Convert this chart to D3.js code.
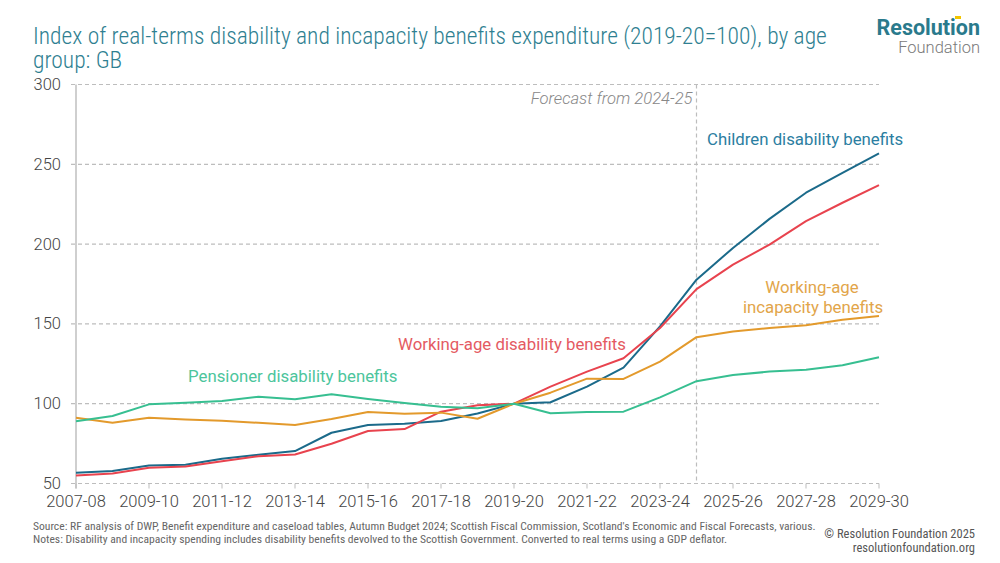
<!DOCTYPE html>
<html><head><meta charset="utf-8">
<script src="https://cdn.jsdelivr.net/npm/d3@7"></script>
<style>
body{margin:0;background:#fff;}
svg{display:block;}
</style></head>
<body>
<svg id="c" width="1000" height="563"></svg>
<script>
const years = ["2007-08","2008-09","2009-10","2010-11","2011-12","2012-13","2013-14","2014-15","2015-16","2016-17","2017-18","2018-19","2019-20","2020-21","2021-22","2022-23","2023-24","2024-25","2025-26","2026-27","2027-28","2028-29","2029-30"];
const tickYears = ["2007-08","2009-10","2011-12","2013-14","2015-16","2017-18","2019-20","2021-22","2023-24","2025-26","2027-28","2029-30"];
const yTicks = [50,100,150,200,250,300];
const children = [56.7,57.9,61.3,61.7,65.5,68.0,70.3,81.8,86.6,87.4,89.1,93.9,100,100.9,110.7,122.6,148.4,177.7,197.6,215.8,232.2,244.7,256.8];
const workingDisability = [55.0,56.3,59.8,60.7,64.0,67.1,68.2,74.9,82.9,84.1,95.0,99.0,100,110.7,120.1,128.5,147.4,171.8,187.1,199.7,214.4,225.9,237.0];
const incapacity = [91.2,88.1,91.2,90.1,89.3,88.0,86.6,90.4,94.8,93.7,94.4,90.6,100,106.9,115.7,115.5,126.4,141.7,145.2,147.4,149.2,152.6,154.9];
const pensioner = [89.0,92.3,99.6,100.6,101.7,104.4,102.8,105.9,103.0,100.4,98.1,97.1,100,94.0,94.8,95.0,104.0,114.1,118.0,120.1,121.2,124.1,129.1];
const forecastYear = "2024-25";

const series = [
  {name:"children", values:children, color:"#1b6a8a"},
  {name:"workingDisability", values:workingDisability, color:"#e8434e"},
  {name:"incapacity", values:incapacity, color:"#e39a2c"},
  {name:"pensioner", values:pensioner, color:"#37bf91"}
];

const svg = d3.select("#c");
const x = d3.scalePoint().domain(years).range([76, 879]);
const y = d3.scaleLinear().domain([50,300]).range([483.5, 84.5]);

// title
const title = svg.append("text").attr("x",33).attr("fill","#2f7f91")
  .style("font-family","'Roboto Condensed','Liberation Sans Narrow','Roboto',sans-serif")
  .style("font-weight","300")
  .style("font-size","23.5px");
title.append("tspan").attr("x",33).attr("y",44).text("Index of real-terms disability and incapacity benefits expenditure (2019-20=100), by age");
title.append("tspan").attr("x",33).attr("y",68).text("group: GB");

// logo
svg.append("text").attr("x",980).attr("y",35).attr("text-anchor","end")
  .attr("fill","#2a7a8c").style("font-family","'Roboto',sans-serif").style("font-weight","700")
  .style("font-size","21.5px").text("Resolution");
svg.append("rect").attr("x",955).attr("y",16).attr("width",6).attr("height",3).attr("fill","#f2c500");
svg.append("text").attr("x",980).attr("y",53).attr("text-anchor","end")
  .attr("fill","#7a7a7a").style("font-family","'Roboto',sans-serif").style("font-weight","300")
  .style("font-size","16.5px").text("Foundation");

// gridlines
const g = svg.append("g");
g.selectAll("line.grid").data(yTicks).join("line")
  .attr("x1",71).attr("x2",879)
  .attr("y1",d=>y(d)).attr("y2",d=>y(d))
  .attr("stroke","#bdbdbd").attr("stroke-width",1.2).attr("stroke-dasharray","4,3");

// y axis line
g.append("line").attr("x1",76).attr("x2",76).attr("y1",y(300)).attr("y2",y(50)+5)
  .attr("stroke","#cfcfcf").attr("stroke-width",2);

// y tick labels
g.selectAll("text.yt").data(yTicks).join("text")
  .attr("x",61).attr("y",d=>y(d)+5.5).attr("text-anchor","end")
  .attr("fill","#444").style("font-family","'Roboto',sans-serif").style("font-weight","300")
  .style("font-size","16.5px").text(d=>d);

// x ticks
g.selectAll("line.xt").data(tickYears).join("line")
  .attr("x1",d=>x(d)).attr("x2",d=>x(d)).attr("y1",y(50)).attr("y2",y(50)+5)
  .attr("stroke","#bdbdbd").attr("stroke-width",1);
g.selectAll("text.xt").data(tickYears).join("text")
  .attr("x",d=>x(d)).attr("y",507).attr("text-anchor","middle")
  .attr("fill","#444").style("font-family","'Roboto',sans-serif").style("font-weight","300")
  .style("font-size","16.5px").text(d=>d);

// forecast line
g.append("line").attr("x1",x(forecastYear)).attr("x2",x(forecastYear))
  .attr("y1",y(300)).attr("y2",y(50))
  .attr("stroke","#bdbdbd").attr("stroke-width",1.2).attr("stroke-dasharray","4,3");
g.append("text").attr("x",x(forecastYear)-4).attr("y",104).attr("text-anchor","end")
  .attr("fill","#888").style("font-family","'Roboto',sans-serif").style("font-style","italic").style("font-weight","300")
  .style("font-size","16.6px").text("Forecast from 2024-25");

// lines
const line = d3.line().x((d,i)=>x(years[i])).y(d=>y(d));
svg.append("g").selectAll("path").data(series).join("path")
  .attr("d",d=>line(d.values)).attr("fill","none")
  .attr("stroke",d=>d.color).attr("stroke-width",2).attr("stroke-linejoin","round");

// labels
const lab = (t,xx,yy,c,anchor)=>svg.append("text").attr("x",xx).attr("y",yy).attr("text-anchor",anchor||"start")
  .attr("fill",c).style("font-family","'Roboto',sans-serif").style("font-size","16.8px").text(t);
lab("Children disability benefits",707,145,"#2b7ea1");
lab("Working-age",812,293,"#e2a54a","middle");
lab("incapacity benefits",813,313,"#e2a54a","middle");
lab("Working-age disability benefits",398,350,"#e45a62");
lab("Pensioner disability benefits",188,382,"#4cc59c");

// footer
const foot = svg.append("text").attr("fill","#666")
  .style("font-family","'Roboto Condensed','Liberation Sans Narrow',sans-serif").style("font-size","11.6px");
foot.append("tspan").attr("x",33).attr("y",530).text("Source: RF analysis of DWP, Benefit expenditure and caseload tables, Autumn Budget 2024; Scottish Fiscal Commission, Scotland's Economic and Fiscal Forecasts, various.");
foot.append("tspan").attr("x",33).attr("y",543).text("Notes: Disability and incapacity spending includes disability benefits devolved to the Scottish Government. Converted to real terms using a GDP deflator.");
const foot2 = svg.append("text").attr("fill","#555").attr("text-anchor","end")
  .style("font-family","'Roboto Condensed','Liberation Sans Narrow',sans-serif").style("font-size","12.5px");
foot2.append("tspan").attr("x",975).attr("y",538).text("© Resolution Foundation 2025");
foot2.append("tspan").attr("x",975).attr("y",552).text("resolutionfoundation.org");
</script>
</body></html>
